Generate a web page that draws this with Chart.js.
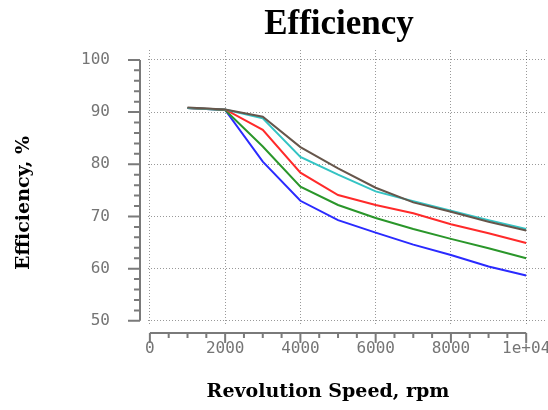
<!DOCTYPE html>
<html>
<head>
<meta charset="utf-8">
<script src="https://cdn.jsdelivr.net/npm/chart.js@4.4.1/dist/chart.umd.min.js"></script>
<style>
    html, body { margin: 0; padding: 0; background: #fff; }
</style>
</head>
<body>
<canvas id="chart" width="548" height="410"></canvas>
<script>
'use strict';

// revolution speed, rpm
const speeds = [1000, 2000, 3000, 4000, 5000, 6000, 7000, 8000, 9000, 10000];

// efficiency, % (one curve per colour)
const effBrown = [90.9, 90.5, 89.1, 83.3, 79.2, 75.5, 72.7, 70.9, 69.0, 67.3];
const effCyan = [90.8, 90.5, 88.8, 81.4, 78.0, 74.8, 72.9, 71.1, 69.3, 67.6];
const effRed = [90.8, 90.5, 86.6, 78.4, 74.1, 72.2, 70.6, 68.5, 66.8, 64.9];
const effGreen = [90.8, 90.4, 83.4, 75.7, 72.2, 69.7, 67.6, 65.7, 63.9, 62.0];
const effBlue = [90.8, 90.4, 80.5, 73.0, 69.3, 66.9, 64.6, 62.6, 60.4, 58.7];

const xTicks = [0, 2000, 4000, 6000, 8000, 10000];
const xTickLabels = ['0', '2000', '4000', '6000', '8000', '1e+04'];
const yTicks = [50, 60, 70, 80, 90, 100];

const titleText = 'Efficiency';
const xTitleText = 'Revolution Speed, rpm';
const yTitleText = 'Efficiency, %';

document.addEventListener('DOMContentLoaded', () => {
    const tickFont = { family: 'DejaVu Sans Mono', size: 16 };
    const tickColor = '#757575';
    const gridColor = 'rgba(0, 0, 0, 0.4)';

    function toPoints(values) {
        return speeds.map((s, i) => ({ x: s, y: values[i] }));
    }

    function series(values, color) {
        return {
            data: toPoints(values),
            borderColor: color,
            borderWidth: 2,
            pointRadius: 0,
            tension: 0,
            fill: false
        };
    }

    // no extra room for overhanging tick labels
    function noPadding(scale) {
        scale.paddingLeft = 0;
        scale.paddingRight = 0;
        scale.paddingTop = 0;
        scale.paddingBottom = 0;
    }

    // axis lines with tick marks, set apart from the plot area
    const axisPlugin = {
        id: 'axisLines',
        afterDraw(chart) {
            const ctx = chart.ctx;
            const xs = chart.scales.x;
            const ys = chart.scales.y;
            ctx.save();
            ctx.strokeStyle = '#7a7a7a';
            ctx.lineWidth = 2;

            const ax = 140;
            ctx.beginPath();
            ctx.moveTo(ax, ys.getPixelForValue(100));
            ctx.lineTo(ax, ys.getPixelForValue(50));
            for (let v = 50; v <= 100; v += 2) {
                const y = ys.getPixelForValue(v);
                const len = v % 10 === 0 ? 12 : 6;
                ctx.moveTo(ax - len, y);
                ctx.lineTo(ax, y);
            }
            ctx.stroke();

            const ay = 333;
            ctx.beginPath();
            ctx.moveTo(xs.getPixelForValue(0), ay);
            ctx.lineTo(xs.getPixelForValue(10000), ay);
            for (let v = 0; v <= 10000; v += 500) {
                const x = xs.getPixelForValue(v);
                const len = v % 2000 === 0 ? 10 : 5;
                ctx.moveTo(x, ay);
                ctx.lineTo(x, ay + len);
            }
            ctx.stroke();
            ctx.restore();
        }
    };

    // chart and axis titles
    const titlePlugin = {
        id: 'titles',
        afterDraw(chart) {
            const ctx = chart.ctx;
            ctx.save();
            ctx.fillStyle = '#000';
            ctx.textAlign = 'center';
            ctx.textBaseline = 'alphabetic';

            ctx.font = 'bold 35px "Liberation Serif"';
            ctx.fillText(titleText, 339, 34);

            ctx.font = 'bold 19px "DejaVu Serif"';
            ctx.fillText(xTitleText, 328, 397);

            ctx.translate(29, 203);
            ctx.rotate(-Math.PI / 2);
            ctx.fillText(yTitleText, 0, 0);
            ctx.restore();
        }
    };

    new Chart(document.getElementById('chart'), {
        type: 'line',
        data: {
            datasets: [
                series(effBrown, '#66564b'),
                series(effCyan, '#33c4c4'),
                series(effRed, '#ff2a2a'),
                series(effGreen, '#2a962a'),
                series(effBlue, '#2a2aff')
            ]
        },
        options: {
            responsive: false,
            animation: false,
            devicePixelRatio: 1,
            layout: {
                autoPadding: false,
                padding: { top: 50, right: 3, left: 0, bottom: 0 }
            },
            plugins: {
                legend: { display: false },
                title: { display: false },
                tooltip: { enabled: false }
            },
            scales: {
                x: {
                    type: 'linear',
                    min: -50,
                    max: 10500,
                    afterBuildTicks: (scale) => {
                        scale.ticks = xTicks.map(v => ({ value: v }));
                    },
                    afterFit: (scale) => {
                        scale.height = 85;
                        noPadding(scale);
                    },
                    ticks: {
                        font: tickFont,
                        color: tickColor,
                        padding: 14,
                        maxRotation: 0,
                        autoSkip: false,
                        callback: (value) => xTickLabels[xTicks.indexOf(value)]
                    },
                    grid: { color: gridColor, lineWidth: 1, drawTicks: false },
                    border: { display: false, dash: [1, 2] }
                },
                y: {
                    min: 49.2,
                    max: 101.9,
                    afterBuildTicks: (scale) => {
                        scale.ticks = yTicks.map(v => ({ value: v }));
                    },
                    afterFit: (scale) => {
                        scale.width = 148;
                        noPadding(scale);
                    },
                    ticks: {
                        font: tickFont,
                        color: tickColor,
                        padding: 38,
                        autoSkip: false
                    },
                    grid: { color: gridColor, lineWidth: 1, drawTicks: false },
                    border: { display: false, dash: [1, 2] }
                }
            }
        },
        plugins: [axisPlugin, titlePlugin]
    });
});
</script>
</body>
</html>
